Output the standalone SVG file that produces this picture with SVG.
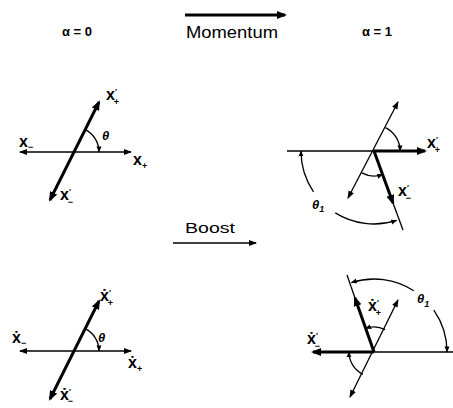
<svg xmlns="http://www.w3.org/2000/svg" width="453" height="408" viewBox="0 0 453 408">
<style>
.thin{stroke:#000;stroke-width:1.3;fill:none}
.thick{stroke:#000;stroke-width:3;fill:none}
.arc{stroke:#000;stroke-width:1.3;fill:none}
text{font-family:"Liberation Sans","DejaVu Sans",sans-serif;fill:#000}
.lb{font-size:16px;font-weight:bold}
.sm{font-size:9px;font-weight:bold}
.pr{font-size:8px;font-weight:bold}
.th{font-size:13px;font-weight:bold;font-style:italic}
.hd{font-size:13px;font-weight:bold}
</style>
<defs>
<marker id="a" markerUnits="userSpaceOnUse" markerWidth="9" markerHeight="7" refX="7" refY="3" orient="auto-start-reverse"><path d="M0,0 L8,3 L0,6 z" fill="#000"/></marker>
<marker id="at" markerUnits="userSpaceOnUse" markerWidth="11" markerHeight="9" refX="8" refY="4" orient="auto-start-reverse"><path d="M0,0 L10,4 L0,8 z" fill="#000"/></marker>
<marker id="as" markerUnits="userSpaceOnUse" markerWidth="7" markerHeight="6" refX="5.5" refY="2.5" orient="auto-start-reverse"><path d="M0,0 L6,2.5 L0,5 z" fill="#000"/></marker>
</defs>
<rect width="453" height="408" fill="#fff"/>

<g id="header">
<text x="62" y="36" class="hd">α = 0</text>
<text x="362" y="36" class="hd">α = 1</text>
<text x="186" y="38" font-size="17" textLength="92" lengthAdjust="spacingAndGlyphs">Momentum</text>
<text x="185" y="233" font-size="15" textLength="50" lengthAdjust="spacingAndGlyphs">Boost</text>
</g>

<g id="connectors">
<line x1="185" y1="15" x2="285" y2="15" class="thick" stroke-width="2.5" marker-end="url(#at)"/>
<line x1="173" y1="243" x2="256" y2="243" class="thin" stroke-width="1.6" marker-end="url(#a)"/>
</g>

<g id="panel-top-left">
<line x1="20" y1="152" x2="131" y2="152" class="thin" marker-start="url(#a)" marker-end="url(#a)"/>
<line x1="50" y1="200" x2="99" y2="102" class="thick" marker-start="url(#at)" marker-end="url(#at)"/>
<path d="M85.2,129.6 A25,25 0 0 1 99,152" class="arc" marker-end="url(#as)"/>
<text x="106" y="100" class="lb">x<tspan class="pr" dy="-6">′</tspan><tspan class="sm" dx="-3" dy="10.5">+</tspan></text>
<text x="102" y="140" class="th">θ</text>
<text x="19" y="147" class="lb">x<tspan class="sm" dy="3">−</tspan></text>
<text x="133" y="165" class="lb">x<tspan class="sm" dy="4">+</tspan></text>
<text x="60" y="200" class="lb">x<tspan class="pr" dy="-6">′</tspan><tspan class="sm" dx="-3" dy="10.5">−</tspan></text>
</g>

<g id="panel-top-right">
<line x1="287" y1="151" x2="374" y2="151" class="thin"/>
<line x1="374" y1="151" x2="425" y2="151" class="thick" marker-end="url(#at)"/>
<line x1="348" y1="198" x2="398" y2="102" class="thin" marker-start="url(#a)" marker-end="url(#a)"/>
<line x1="374" y1="151" x2="393" y2="203" class="thick" marker-end="url(#at)"/>
<line x1="393" y1="203" x2="403" y2="230" class="thin"/>
<path d="M385.4,127.6 A26,26 0 0 1 400,151" class="arc" marker-end="url(#as)"/>
<path d="M361.9,172.9 A25,25 0 0 0 382.6,174.5" class="arc" marker-end="url(#as)"/>
<path d="M313.5,191.8 A73,73 0 0 1 301,151" class="arc" marker-end="url(#as)"/>
<path d="M335.3,212.9 A73,73 0 0 0 396.6,220.4" class="arc" marker-end="url(#as)"/>
<text x="427" y="148" class="lb">x<tspan class="pr" dy="-6">′</tspan><tspan class="sm" dx="-3" dy="10.5">+</tspan></text>
<text x="398" y="196" class="lb">x<tspan class="pr" dy="-6">′</tspan><tspan class="sm" dx="-3" dy="10.5">−</tspan></text>
<text x="312" y="209" class="th">θ<tspan class="sm" dy="3">1</tspan></text>
</g>

<g id="panel-bottom-left">
<line x1="20" y1="351" x2="131" y2="351" class="thin" marker-start="url(#a)" marker-end="url(#a)"/>
<line x1="50" y1="399" x2="99" y2="301" class="thick" marker-start="url(#at)" marker-end="url(#at)"/>
<path d="M85.2,328.6 A25,25 0 0 1 99,351" class="arc" marker-end="url(#as)"/>
<text x="100" y="301" class="lb">ẋ<tspan class="pr" dy="-6">′</tspan><tspan class="sm" dx="-3" dy="10.5">+</tspan></text>
<text x="98" y="342" class="th">θ</text>
<text x="12" y="343" class="lb">ẋ<tspan class="sm" dy="3">−</tspan></text>
<text x="128" y="368" class="lb">ẋ<tspan class="sm" dy="4">+</tspan></text>
<text x="60" y="400" class="lb">ẋ<tspan class="pr" dy="-6">′</tspan><tspan class="sm" dx="-3" dy="10">−</tspan></text>
</g>

<g id="panel-bottom-right">
<line x1="374" y1="352" x2="453" y2="352" class="thin"/>
<line x1="374" y1="352" x2="313" y2="352" class="thick" marker-end="url(#at)"/>
<line x1="374" y1="352" x2="355" y2="298" class="thick" marker-end="url(#at)"/>
<line x1="355" y1="298" x2="347" y2="275" class="thin"/>
<line x1="350" y1="397" x2="398" y2="300" class="thin" marker-start="url(#a)" marker-end="url(#a)"/>
<path d="M385.1,329.6 A25,25 0 0 0 365.7,328.4" class="arc" marker-end="url(#as)"/>
<path d="M362.9,374.4 A25,25 0 0 1 349,352" class="arc" marker-end="url(#as)"/>
<path d="M413.8,290.8 A73,73 0 0 0 351.4,282.6" class="arc" marker-end="url(#as)"/>
<path d="M433.8,310.1 A73,73 0 0 1 447,352" class="arc" marker-end="url(#as)"/>
<text x="368" y="311" class="lb">ẋ<tspan class="pr" dy="-6">′</tspan><tspan class="sm" dx="-3" dy="10.5">+</tspan></text>
<text x="307" y="344" class="lb">ẋ<tspan class="pr" dy="-6">′</tspan><tspan class="sm" dx="-3" dy="10.5">−</tspan></text>
<text x="417" y="303" class="th">θ<tspan class="sm" dy="4">1</tspan></text>
</g>
</svg>
